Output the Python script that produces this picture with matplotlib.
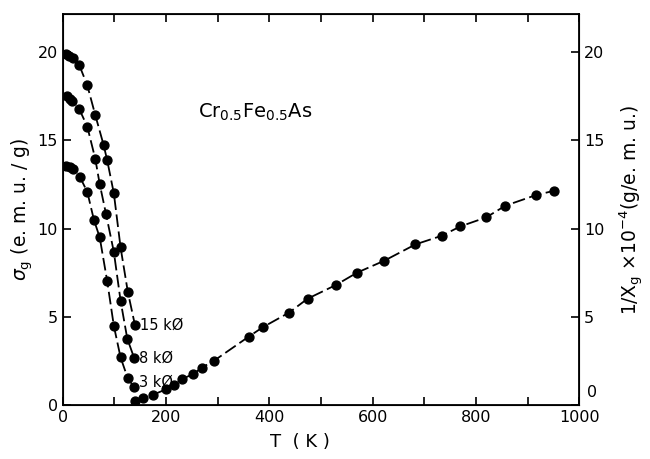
import matplotlib
matplotlib.use("Agg")
import matplotlib.pyplot as plt
from matplotlib.ticker import MultipleLocator, FixedLocator

# magnetisation sigma_g (e.m.u./g) below Tc, three fields
t_15k = [6.4, 12, 19.3, 32, 47.6, 63, 79, 86, 99, 112, 126, 140]
s_15k = [19.87, 19.77, 19.64, 19.26, 18.11, 16.43, 14.75, 13.88, 11.99, 8.93, 6.42, 4.51]

t_8k = [7.7, 14, 18.6, 32, 47.6, 63, 71.6, 84, 99, 112, 125, 138.5]
s_8k = [17.5, 17.34, 17.24, 16.77, 15.77, 13.95, 12.52, 10.8, 8.67, 5.91, 3.76, 2.65]

t_3k = [6.4, 13.5, 20, 33, 47.6, 60.5, 71.6, 86, 99, 112, 126, 138.5]
s_3k = [13.54, 13.47, 13.37, 12.94, 12.07, 10.48, 9.5, 7.04, 4.48, 2.7, 1.51, 1.0]

# inverse susceptibility 1/chi_g x 1e-4 (g/e.m.u.)
t_inv = [140, 156, 174, 200, 215, 231, 253, 269, 293, 360, 387, 438, 474, 529,
         570, 623, 683, 734, 770, 820, 857, 917, 952]
inv_chi = [0.23, 0.38, 0.57, 0.89, 1.15, 1.47, 1.76, 2.11, 2.51, 3.87, 4.40, 5.23,
           6.02, 6.80, 7.50, 8.18, 9.10, 9.59, 10.12, 10.63, 11.29, 11.90, 12.14]

field_labels = ["15 kØ", "8 kØ", "3 kØ"]

plt.rcParams['font.family'] = ['DejaVu Sans']

fig = plt.figure(figsize=(6.5, 4.59), dpi=100)
ax = fig.add_axes([0.0965, 0.1176, 0.7945, 0.8518])

line_kw = dict(color='black', lw=1.3, ls=(0, (7, 2.5)), marker='o', ms=6.4,
               markerfacecolor='black', markeredgecolor='black')

for t, s in [(t_15k, s_15k), (t_8k, s_8k), (t_3k, s_3k)]:
    ax.plot(t, s, **line_kw)
ax.plot(t_inv, inv_chi, **line_kw)

# field labels next to the last point of each curve
for t, s, lab in [(t_15k, s_15k, field_labels[0]), (t_8k, s_8k, field_labels[1]),
                  (t_3k, s_3k, field_labels[2])]:
    dy = 0.3 if lab.startswith("3") else 0.0
    ax.text(t[-1] + 10, s[-1] + dy, lab, fontsize=10.5, va='center', ha='left')

ax.text(262, 16.3, r'Cr$_{0.5}$Fe$_{0.5}$As', fontsize=14, ha='left', va='baseline')

ax.set_xlim(0, 1000)
ax.set_ylim(0, 22.15)
ax.xaxis.set_major_locator(MultipleLocator(200))
ax.xaxis.set_minor_locator(MultipleLocator(100))
ax.yaxis.set_major_locator(MultipleLocator(5))
ax.tick_params(which='both', direction='in', top=True, labelsize=11.5, width=1.2)
ax.tick_params(which='major', length=6)
ax.tick_params(which='minor', length=6)
for sp in ax.spines.values():
    sp.set_linewidth(1.3)

ax.set_xlabel("T  ( K )", fontsize=13, labelpad=6, x=0.46)
ax.set_ylabel(r"$\sigma_{\rm g}$ (e. m. u. / g)", fontsize=13.5, labelpad=2)

ax2 = ax.twinx()
ax2.set_ylim(0, 22.15)
ax2.yaxis.set_major_locator(FixedLocator([0, 5, 10, 15, 20]))
ax2.set_yticklabels(["", "5", "10", "15", "20"])
ax2.tick_params(direction='in', length=6, width=1.2, labelsize=11.5)
# right-hand zero sits above the 1000 label
ax2.annotate("0", xy=(1, 0), xycoords=('axes fraction', 'data'),
             xytext=(9, 9), textcoords='offset points', fontsize=11.5,
             ha='center', va='center')
ax2.set_ylabel(r"1/X$_{\rm g}$ ×10$^{-4}$(g/e. m. u.)", fontsize=13.5, labelpad=10)

fig.savefig("out.png", dpi=100)
